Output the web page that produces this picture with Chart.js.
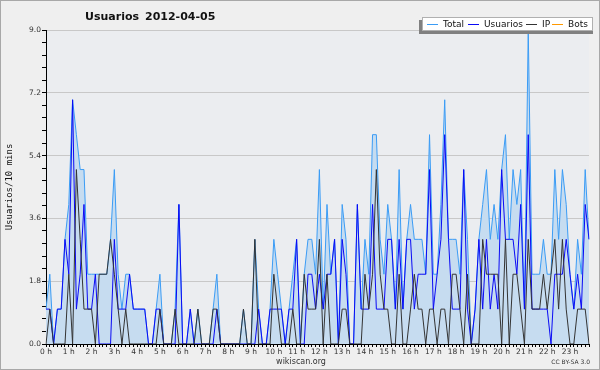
<!DOCTYPE html>
<html>
<head>
<meta charset="utf-8">
<script src="https://cdn.jsdelivr.net/npm/chart.js@4"></script>
<style>
  html, body { margin: 0; padding: 0; background: #efefef; }
  #wrap { width: 600px; height: 370px; }
</style>
</head>
<body>
<div id="wrap"><canvas id="chart" width="600" height="370"></canvas></div>
<script>
// usuarios por tramo de 10 minutos, 2012-04-05
const total = [
  1,2,0,1,1,3,4,7,6,5,5,2,2,2,2,2,2,3,5,2,1,2,2,1,
  1,1,1,0,0,1,2,0,0,0,1,4,0,0,1,0,1,0,0,0,1,2,0,0,
  0,0,0,0,1,0,0,3,1,0,0,1,3,2,1,0,1,2,3,0,2,3,3,2,
  5,1,4,2,3,0,4,3,0,0,4,1,3,2,6,6,3,2,4,3,1,5,1,3,
  4,3,3,3,2,6,2,2,4,7,3,3,3,2,5,3,0,1,3,4,5,3,4,3,
  5,6,3,5,4,5,1,9,2,2,2,3,2,2,5,3,5,4,2,1,3,2,5,3
];
const usuarios = [
  1,1,0,1,1,3,2,7,1,2,4,1,1,2,0,0,0,0,3,1,1,1,2,1,
  1,1,1,0,0,1,1,0,0,0,0,4,0,0,1,0,0,0,0,0,0,1,0,0,
  0,0,0,0,0,0,0,0,1,0,0,1,1,1,1,0,1,1,3,0,0,2,2,1,
  2,1,2,2,3,0,3,2,0,0,4,1,1,1,4,1,1,1,3,3,1,3,1,3,
  3,1,2,2,2,5,1,2,3,6,3,1,1,1,5,1,0,1,3,1,3,1,2,1,
  5,3,3,3,2,4,1,6,1,1,1,1,1,0,2,2,2,3,2,1,2,1,4,3
];
const ip = [
  0,1,0,0,0,0,2,0,5,3,1,1,1,0,2,2,2,3,2,1,0,1,0,0,
  0,0,0,0,0,0,1,0,0,0,1,0,0,0,0,0,1,0,0,0,1,1,0,0,
  0,0,0,0,1,0,0,3,0,0,0,0,2,1,0,0,0,1,0,0,2,1,1,1,
  3,0,2,0,0,0,1,1,0,0,0,0,2,1,2,5,2,1,1,0,0,2,0,0,
  1,2,1,1,0,1,1,0,1,1,0,2,2,1,0,2,0,0,0,3,2,2,2,2,
  0,3,0,2,2,1,0,3,1,1,1,2,1,2,3,1,3,1,0,0,1,1,1,0
];
const bots = [
  0,0,0,0,0,0,0,0,0,0,0,0,0,0,0,0,0,0,0,0,0,0,0,0,
  0,0,0,0,0,0,0,0,0,0,0,0,0,0,0,0,0,0,0,0,0,0,0,0,
  0,0,0,0,0,0,0,0,0,0,0,0,0,0,0,0,0,0,0,0,0,0,0,0,
  0,0,0,0,0,0,0,0,0,0,0,0,0,0,0,0,0,0,0,0,0,0,0,0,
  0,0,0,0,0,0,0,0,0,0,0,0,0,0,0,0,0,0,0,0,0,0,0,0,
  0,0,0,0,0,0,0,0,0,0,0,0,0,0,0,0,0,0,0,0,0,0,0,0
];

// franjas de 10 min
const slots = [];
for (let h = 0; h < 24; h++) {
  for (let m = 0; m < 60; m += 10) slots.push(h + ':' + String(m).padStart(2, '0'));
}

const yTicks = [0, 1.8, 3.6, 5.4, 7.2, 9.0];
const isMajor = v => yTicks.some(t => Math.abs(t - v) < 1e-6);

const colors = { total: '#3b9cf5', fill: '#c6dcf0', usuarios: '#0a0af5', ip: '#333333', bots: '#ff9900' };

Chart.defaults.font.family = 'DejaVu Sans';
Chart.defaults.color = '#333';

// fondo, titulo, leyenda y pie
const decor = {
  id: 'decor',
  beforeDraw(chart) {
    const { ctx, chartArea: a } = chart;
    ctx.save();
    ctx.fillStyle = '#efefef';
    ctx.fillRect(0, 0, 600, 370);
    ctx.strokeStyle = '#a8a8a8';
    ctx.strokeRect(0.5, 0.5, 599, 369);
    ctx.fillStyle = '#ebedf0';
    ctx.fillRect(a.left, a.top, a.right - a.left, a.bottom - a.top);
    ctx.restore();
  },
  afterDraw(chart) {
    const ctx = chart.ctx;
    ctx.save();
    ctx.fillStyle = '#111';
    ctx.font = 'bold 11px "DejaVu Sans"';
    ctx.textBaseline = 'middle';
    ctx.fillText('Usuarios', 85, 17);
    ctx.fillText('2012-04-05', 145, 17);

    // caja de leyenda con sombra
    ctx.fillStyle = '#808080';
    ctx.fillRect(419, 20, 174, 14);
    ctx.fillStyle = '#ffffff';
    ctx.fillRect(422, 17, 171, 14);
    ctx.strokeStyle = '#b0b0b0';
    ctx.strokeRect(422.5, 17.5, 170, 13);
    const items = [
      ['Total', colors.total, 427, 443],
      ['Usuarios', colors.usuarios, 468, 484],
      ['IP', colors.ip, 526, 542],
      ['Bots', colors.bots, 552, 568]
    ];
    ctx.font = '9px "DejaVu Sans"';
    items.forEach(([label, col, lx, tx]) => {
      ctx.strokeStyle = col;
      ctx.lineWidth = 1;
      ctx.beginPath();
      ctx.moveTo(lx, 24.5);
      ctx.lineTo(lx + 11, 24.5);
      ctx.stroke();
      ctx.fillStyle = '#111';
      ctx.fillText(label, tx, 24.5);
    });

    ctx.fillStyle = '#333';
    ctx.font = '8px "DejaVu Sans"';
    ctx.textAlign = 'center';
    ctx.fillText('wikiscan.org', 301, 362);
    ctx.font = '6px "DejaVu Sans"';
    ctx.textAlign = 'right';
    ctx.fillText('CC BY-SA 3.0', 590, 362);
    ctx.restore();
  }
};

new Chart(document.getElementById('chart'), {
  type: 'line',
  data: {
    labels: slots,
    datasets: [
      { label: 'Total', data: total, borderColor: colors.total, backgroundColor: colors.fill, fill: 'origin', order: 4 },
      { label: 'Usuarios', data: usuarios, borderColor: colors.usuarios, order: 2 },
      { label: 'IP', data: ip, borderColor: colors.ip, order: 1 },
      { label: 'Bots', data: bots, borderColor: colors.bots, order: 5 }
    ]
  },
  options: {
    responsive: false,
    animation: false,
    devicePixelRatio: 1,
    layout: { padding: { left: 0, right: 11, top: 30, bottom: 0 } },
    elements: {
      point: { radius: 0 },
      line: { borderWidth: 1, tension: 0 }
    },
    plugins: { legend: { display: false }, title: { display: false }, tooltip: { enabled: false } },
    scales: {
      x: {
        type: 'category',
        offset: false,
        afterFit: s => { s.height = 26; },
        border: { color: '#000', width: 1, z: 1 },
        grid: { drawOnChartArea: false, tickLength: 3, tickColor: '#000' },
        ticks: {
          autoSkip: false, maxRotation: 0, minRotation: 0, padding: 1,
          font: { size: 7.5 }, color: '#333',
          callback: (v, i) => (i % 6 === 0 ? (i / 6) + ' h' : '')
        }
      },
      y: {
        min: 0, max: 9,
        afterFit: s => { s.width = 46; },
        border: { color: '#000', width: 1 },
        grid: {
          tickLength: 4,
          color: c => (c.tick && isMajor(c.tick.value) && c.tick.value > 0 ? '#c8c8c8' : 'rgba(0,0,0,0)'),
          tickColor: '#000'
        },
        ticks: {
          stepSize: 0.36, padding: 1,
          font: { size: 7.5 }, color: '#333',
          callback: v => (isMajor(v) ? v.toFixed(1) : '')
        },
        title: {
          display: true, text: 'Usuarios/10 mins', color: '#111',
          font: { family: '"DejaVu Sans Mono"', size: 9 }, padding: { top: 4, bottom: 0 }
        }
      }
    }
  },
  plugins: [decor]
});
</script>
</body>
</html>
